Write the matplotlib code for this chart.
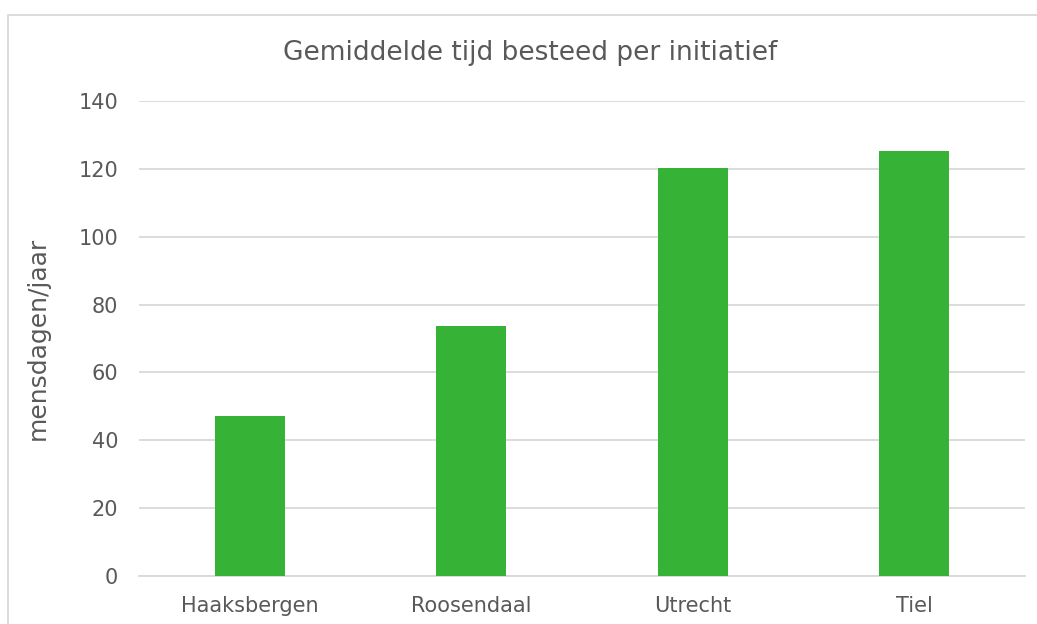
import matplotlib
matplotlib.use("Agg")
import matplotlib.pyplot as plt
from matplotlib.patches import Rectangle

categories = ["Haaksbergen", "Roosendaal", "Utrecht", "Tiel"]
values = [47.3, 73.7, 120.4, 125.3]
yticks = [0, 20, 40, 60, 80, 100, 120, 140]

TEXT = "#595959"
GRID = "#d9d9d9"
BAR = "#36B336"

plt.rcParams['font.family'] = ['DejaVu Sans']
fig = plt.figure(figsize=(10.37, 6.24), dpi=100)
ax = fig.add_axes([139/1037, 1-576/624, (1025-139)/1037, (576-101)/624])

x = list(range(len(categories)))
ax.bar(x, values, width=0.314, color=BAR, zorder=3)
ax.set_xlim(-0.5, len(categories) - 0.5)
ax.set_ylim(0, 140)
ax.set_yticks(yticks)
ax.set_xticks(x)
ax.set_xticklabels(categories)
ax.yaxis.grid(True, color=GRID, linewidth=1.3, zorder=0)
for s in ["top", "right", "left"]:
    ax.spines[s].set_visible(False)
ax.spines["bottom"].set_color(GRID)
ax.spines["bottom"].set_linewidth(1.3)
ax.tick_params(axis='both', length=0, labelsize=15, labelcolor=TEXT)
ax.tick_params(axis='y', pad=15)
ax.tick_params(axis='x', pad=14.5)
ax.set_ylabel("mensdagen/jaar", fontsize=18, color=TEXT)
ax.yaxis.set_label_coords(-(139-50)/886, 0.5)
fig.text((282+778)/2/1037, 1-53/624, "Gemiddelde tijd besteed per initiatief",
         ha='center', va='center', fontsize=19, color=TEXT)

fig.patches.append(Rectangle((7.5/1037, -0.1), 1.2, 1 + 0.1 - 15/624,
                             transform=fig.transFigure, fill=False,
                             edgecolor=GRID, linewidth=1.3))
fig.savefig("out.png", dpi=100)
